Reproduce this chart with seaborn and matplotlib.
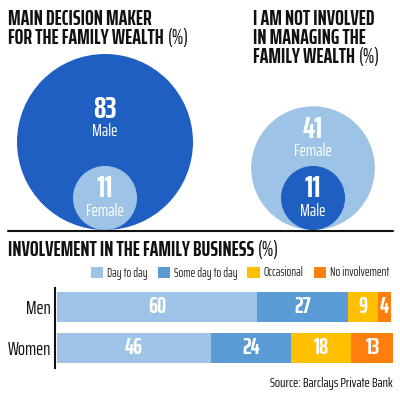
import numpy as np
import pandas as pd
import seaborn as sns
import matplotlib.pyplot as plt
from matplotlib import font_manager
from matplotlib.patches import Circle, Patch

# bubble data (%)
decision_labels = ["Male", "Female"]
decision_values = [83, 11]
notinv_labels = ["Female", "Male"]
notinv_values = [41, 11]

# family business involvement (%)
groups = ["Men", "Women"]
segments = ["Day to day", "Some day to day", "Occasional", "No involvement"]
men_vals = [60, 27, 9, 4]
women_vals = [46, 24, 18, 13]

DARK = "#1f5fc2"
LIGHT = "#9dc3e6"
MID = "#5b9bd5"
YEL = "#ffc000"
ORA = "#ff7f0e"
seg_colors = [LIGHT, MID, YEL, ORA]

sns.set_theme(style="white")
names = {f.name for f in font_manager.fontManager.ttflist}
FONT = next(n for n in ["Saira ExtraCondensed", "League Gothic", "Roboto Condensed", "DejaVu Sans"]
            if n in names)
plt.rcParams["font.family"] = [FONT, "DejaVu Sans"]

fig = plt.figure(figsize=(4.0, 3.95), dpi=100)
fig.patch.set_facecolor("white")

# overlay axes in pixel units (0,0 = top-left)
ov = fig.add_axes([0, 0, 1, 1])
ov.set_xlim(0, 400)
ov.set_ylim(395, 0)
ov.axis("off")

base = 230
k = 88 / np.sqrt(83)


def bubbles(cx, values, labels, colors, big_off):
    r_big = k * np.sqrt(values[0])
    r_small = k * np.sqrt(values[1])
    ov.add_patch(Circle((cx, base - r_big), r_big, color=colors[0], lw=0))
    ov.add_patch(Circle((cx, base - r_small), r_small, color=colors[1], lw=0))
    yb = base - r_big
    ov.text(cx, yb - big_off, str(values[0]), ha="center", va="center", color="white",
            fontsize=22, fontweight="bold")
    ov.text(cx, yb - big_off + 22, labels[0], ha="center", va="center", color="white",
            fontsize=12.5)
    ys = base - r_small
    ov.text(cx, ys - 9, str(values[1]), ha="center", va="center", color="white",
            fontsize=22, fontweight="bold")
    ov.text(cx, ys + 13, labels[1], ha="center", va="center", color="white", fontsize=12.5)


bubbles(105, decision_values, decision_labels, [DARK, LIGHT], 33)
bubbles(313, notinv_values, notinv_labels, [LIGHT, DARK], 39)


def title(x, y, lines, size=15):
    for i, line in enumerate(lines):
        yy = y + i * 19
        if line.endswith("(%)"):
            t = ov.text(x, yy, line[:-3], ha="left", va="baseline", fontsize=size,
                        fontweight="bold", color="#111111")
            ov.annotate("(%)", xy=(1, 0), xycoords=t, xytext=(0.5, 0),
                        textcoords="offset points", ha="left", va="bottom",
                        fontsize=size, color="#111111")
        else:
            ov.text(x, yy, line, ha="left", va="baseline", fontsize=size,
                    fontweight="bold", color="#111111")


title(8, 25, ["MAIN DECISION MAKER", "FOR THE FAMILY WEALTH (%)"])
title(253, 25, ["I AM NOT INVOLVED", "IN MANAGING THE", "FAMILY WEALTH (%)"])
ov.plot([8, 393], [231, 231], color="#111111", lw=1.5)
title(8, 256, ["INVOLVEMENT IN THE FAMILY BUSINESS (%)"])

# stacked bars
df = pd.DataFrame({"group": groups * len(segments),
                   "segment": np.repeat(segments, len(groups)),
                   "value": [v for pair in zip(men_vals, women_vals) for v in pair]})
df["cum"] = df.groupby("group")["value"].cumsum()

bx = fig.add_axes([55 / 400, 1 - 368 / 395, 338 / 400, 80 / 395])
for seg, col in reversed(list(zip(segments, seg_colors))):
    sub = df[df["segment"] == seg]
    sns.barplot(data=sub, x="cum", y="group", order=groups, color=col,
                width=0.73, ax=bx, saturation=1, linewidth=0)
for _, row in df.iterrows():
    yi = groups.index(row["group"])
    bx.text(row["cum"] - row["value"] / 2, yi, str(row["value"]), ha="center",
            va="center", color="white", fontsize=16.5, fontweight="bold")
bx.set_xlim(-0.6, 100.6)
bx.set_ylim(1.49, -0.46)
bx.set_xlabel("")
bx.set_ylabel("")
bx.set_xticks([])
bx.tick_params(axis="y", length=0, labelsize=13.5, pad=3, labelcolor="#111111")
for s in ["top", "right", "bottom"]:
    bx.spines[s].set_visible(False)
bx.spines["left"].set_color("#111111")
bx.spines["left"].set_linewidth(1.5)
bx.set_facecolor("none")

handles = [Patch(facecolor=c, edgecolor="none", label=s) for s, c in zip(segments, seg_colors)]
fig.legend(handles=handles, ncol=4, loc="center right", bbox_to_anchor=(0.985, 1 - 273 / 395),
           frameon=False, fontsize=9, handlelength=1.0, handleheight=1.0,
           handletextpad=0.3, columnspacing=0.8, borderaxespad=0)

ov.text(393, 383, "Source: Barclays Private Bank", ha="right", va="center",
        fontsize=10, color="#111111")

fig.savefig("out.png", dpi=100)
